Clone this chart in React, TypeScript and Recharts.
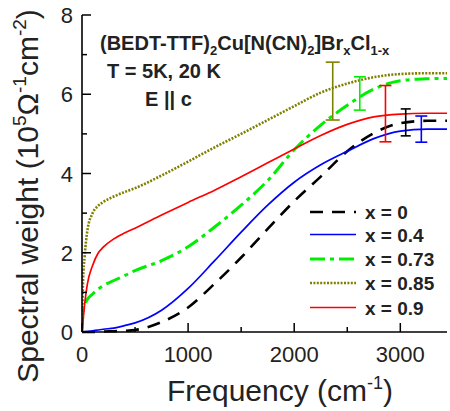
import React from 'react';
import {
  ComposedChart,
  Line,
  Scatter,
  ErrorBar,
  XAxis,
  YAxis,
  Customized,
} from 'recharts';

const FONT = '"Liberation Sans", Arial, Helvetica, sans-serif';

// frequency grid (cm^-1)
const FREQ = [0, 10, 25, 50, 100, 150, 200, 300, 400, 500, 750, 1000, 1250, 1500, 1750, 2000, 2250, 2500, 2750, 3000, 3250, 3440];

// spectral weight (10^5 Ohm^-1 cm^-2) per Br content
const SW_X0 = [0, 0, 0, 0, 0, 0, 0.01, 0.02, 0.03, 0.05, 0.25, 0.62, 1.22, 1.88, 2.6, 3.3, 3.92, 4.56, 5.02, 5.27, 5.33, 5.33];
const SW_X04 = [0, 0, 0.005, 0.01, 0.03, 0.05, 0.07, 0.1, 0.16, 0.23, 0.55, 1.1, 1.8, 2.52, 3.2, 3.78, 4.22, 4.56, 4.88, 5.07, 5.12, 5.12];
const SW_X073 = [0, 0.5, 0.68, 0.82, 0.96, 1.08, 1.17, 1.3, 1.42, 1.55, 1.8, 2.15, 2.65, 3.2, 3.82, 4.6, 5.22, 5.72, 6.13, 6.34, 6.39, 6.4];
const SW_X085 = [0, 1.3, 1.9, 2.55, 3.0, 3.18, 3.28, 3.42, 3.53, 3.63, 3.95, 4.3, 4.66, 5.0, 5.35, 5.7, 6.04, 6.27, 6.43, 6.51, 6.53, 6.53];
const SW_X09 = [0, 0.3, 0.7, 1.2, 1.68, 1.98, 2.14, 2.35, 2.5, 2.62, 2.95, 3.27, 3.58, 3.92, 4.27, 4.62, 4.96, 5.24, 5.43, 5.5, 5.52, 5.52];

// error bars: position, value, half-range
const ERR_X0 = [{ f: 3051, v: 5.29, e: 0.34 }];
const ERR_X04 = [{ f: 3198, v: 5.12, e: 0.33 }];
const ERR_X073 = [{ f: 2618, v: 6.02, e: 0.42 }];
const ERR_X085 = [{ f: 2363, v: 6.08, e: 0.73 }];
const ERR_X09 = [{ f: 2860, v: 5.51, e: 0.71 }];

const X_TICKS = [0, 500, 1000, 1500, 2000, 2500, 3000];
const Y_TICKS = [0, 1, 2, 3, 4, 5, 6, 7, 8];

const data = FREQ.map((f, i) => ({
  f,
  x0: SW_X0[i],
  x04: SW_X04[i],
  x073: SW_X073[i],
  x085: SW_X085[i],
  x09: SW_X09[i],
}));

const SERIES = [
  { key: 'x0', label: 'x = 0', color: '#000000', width: 2.6, dash: '13 9', err: ERR_X0, cap: 5 },
  { key: 'x04', label: 'x = 0.4', color: '#0000ff', width: 1.7, dash: undefined, err: ERR_X04, cap: 6 },
  { key: 'x073', label: 'x = 0.73', color: '#00ee00', width: 3, dash: '15 5 4 5', err: ERR_X073, cap: 6 },
  { key: 'x085', label: 'x = 0.85', color: '#808000', width: 2.6, dash: '2 1.4', err: ERR_X085, cap: 7 },
  { key: 'x09', label: 'x = 0.9', color: '#ff0000', width: 1.7, dash: undefined, err: ERR_X09, cap: 6 },
];

const BottomTick = ({ x, y, payload }: any) => {
  const major = payload.value % 1000 === 0;
  return (
    <g>
      <line x1={x} x2={x} y1={y} y2={y - (major ? 9 : 5)} stroke="#000" strokeWidth={1.5} />
      {major && (
        <text x={x} y={y + 30} textAnchor="middle" fontSize={22} fontFamily={FONT} fill="#222">
          {payload.value}
        </text>
      )}
    </g>
  );
};

const TopTick = ({ x, y, payload }: any) => {
  const major = payload.value % 1000 === 0;
  return <line x1={x} x2={x} y1={y} y2={y + (major ? 9 : 5)} stroke="#000" strokeWidth={1.5} />;
};

const LeftTick = ({ x, y, payload }: any) => {
  const major = payload.value % 2 === 0;
  return (
    <g>
      <line x1={x} x2={x + (major ? 9 : 5)} y1={y} y2={y} stroke="#000" strokeWidth={1.5} />
      {major && (
        <text x={x - 9} y={y + 8} textAnchor="end" fontSize={22} fontFamily={FONT} fill="#222">
          {payload.value}
        </text>
      )}
    </g>
  );
};

const RightTick = ({ x, y, payload }: any) => {
  const major = payload.value % 2 === 0;
  return <line x1={x} x2={x - (major ? 9 : 5)} y1={y} y2={y} stroke="#000" strokeWidth={1.5} />;
};

const Annotations = () => (
  <g fontFamily={FONT} fill="#222">
    <text x={100} y={50} fontSize={20} fontWeight="bold">
      <tspan>(BEDT-TTF)</tspan>
      <tspan fontSize={13} dy={5}>2</tspan>
      <tspan dy={-5}>Cu[N(CN)</tspan>
      <tspan fontSize={13} dy={5}>2</tspan>
      <tspan dy={-5}>]Br</tspan>
      <tspan fontSize={13} dy={5}>x</tspan>
      <tspan dy={-5}>Cl</tspan>
      <tspan fontSize={13} dy={5}>1-x</tspan>
    </text>
    <text x={107} y={78} fontSize={20} fontWeight="bold">T = 5K, 20 K</text>
    <text x={145} y={106} fontSize={20} fontWeight="bold">E || c</text>

    <text x={280} y={401} fontSize={30} textAnchor="middle">
      <tspan>Frequency (cm</tspan>
      <tspan fontSize={18} dy={-12}>-1</tspan>
      <tspan dy={12}>)</tspan>
    </text>
    <text x={38} y={196} fontSize={30} textAnchor="middle" transform="rotate(-90 38 196)">
      <tspan>Spectral weight (10</tspan>
      <tspan fontSize={19} dy={-12}>5</tspan>
      <tspan dy={12}>Ω</tspan>
      <tspan fontSize={19} dy={-12}>-1</tspan>
      <tspan dy={12}>cm</tspan>
      <tspan fontSize={19} dy={-12}>-2</tspan>
      <tspan dy={12}>)</tspan>
    </text>

    {SERIES.map((s, i) => {
      const cy = [212, 234.5, 259, 283, 307.5][i];
      return (
        <g key={s.key}>
          <line x1={310} x2={356} y1={cy} y2={cy} stroke={s.color} strokeWidth={s.width} strokeDasharray={s.dash} />
          <text x={365} y={cy + 7} fontSize={19} fontWeight="bold">{s.label}</text>
        </g>
      );
    })}
  </g>
);

export default function App() {
  return (
    <div style={{ position: 'absolute', left: 0, top: 0, width: 450, height: 411, background: '#fff' }}>
      <ComposedChart width={450} height={411} data={data} margin={{ top: 15, right: 3, bottom: 0, left: 0 }}>
        <XAxis
          dataKey="f"
          type="number"
          domain={[0, 3440]}
          ticks={X_TICKS}
          interval={0}
          height={79}
          tickSize={0}
          tickMargin={0}
          tickLine={false}
          tick={<BottomTick />}
          axisLine={{ stroke: '#000', strokeWidth: 1.6 }}
          allowDataOverflow
        />
        <XAxis
          xAxisId="top"
          orientation="top"
          dataKey="f"
          type="number"
          domain={[0, 3440]}
          ticks={X_TICKS}
          interval={0}
          height={0}
          tickSize={0}
          tickMargin={0}
          tickLine={false}
          tick={<TopTick />}
          axisLine={{ stroke: '#000', strokeWidth: 1.6 }}
        />
        <YAxis
          type="number"
          domain={[0, 8]}
          ticks={Y_TICKS}
          interval={0}
          width={82}
          tickSize={0}
          tickMargin={0}
          tickLine={false}
          tick={<LeftTick />}
          axisLine={{ stroke: '#000', strokeWidth: 1.6 }}
        />
        <YAxis
          yAxisId="right"
          orientation="right"
          type="number"
          domain={[0, 8]}
          ticks={Y_TICKS}
          interval={0}
          width={0}
          tickSize={0}
          tickMargin={0}
          tickLine={false}
          tick={<RightTick />}
          axisLine={{ stroke: '#000', strokeWidth: 1.6 }}
        />
        {SERIES.map((s) => (
          <Line
            key={s.key}
            dataKey={s.key}
            type="monotone"
            stroke={s.color}
            strokeWidth={s.width}
            strokeDasharray={s.dash}
            dot={false}
            activeDot={false}
            isAnimationActive={false}
          />
        ))}
        {SERIES.map((s) => (
          <Scatter
            key={`err-${s.key}`}
            data={s.err}
            dataKey="v"
            shape={() => <g />}
            isAnimationActive={false}
          >
            <ErrorBar dataKey="e" direction="y" width={s.cap} stroke={s.color} strokeWidth={1.6} isAnimationActive={false} />
          </Scatter>
        ))}
        <Customized component={Annotations} />
      </ComposedChart>
    </div>
  );
}
